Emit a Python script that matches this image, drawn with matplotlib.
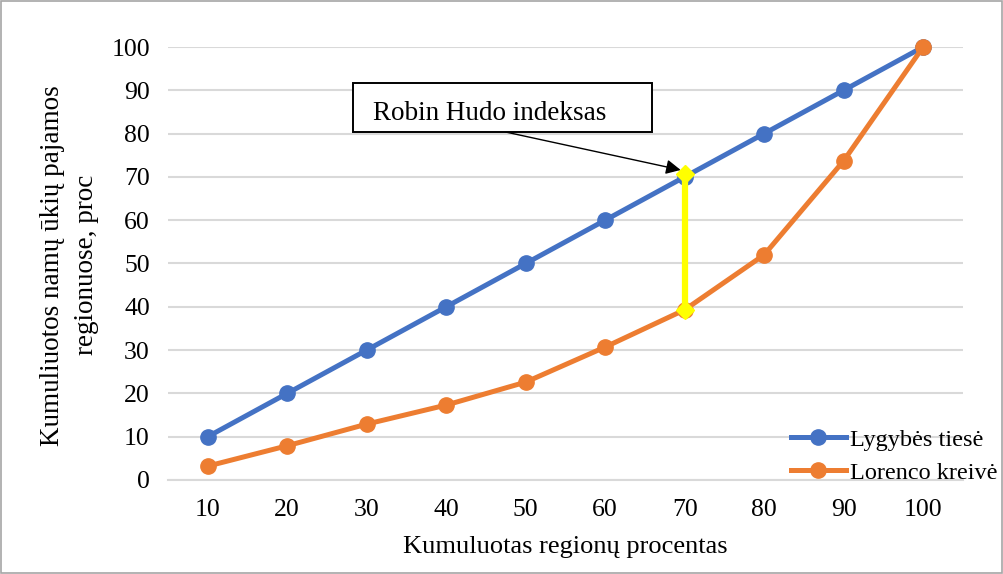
import numpy as np
import matplotlib.pyplot as plt
from matplotlib.patches import Rectangle

plt.rcParams['font.family'] = ['Liberation Serif', 'DejaVu Serif']

# Data
categories = [10, 20, 30, 40, 50, 60, 70, 80, 90, 100]
equality_line = [10, 20, 30, 40, 50, 60, 70, 80, 90, 100]
lorenz_curve = [3.2, 7.9, 12.9, 17.3, 22.6, 30.7, 39.3, 52.0, 73.7, 100]
gap_x = 70
gap_low = 39.3
gap_high = 70.7

blue = '#4472c4'
orange = '#ed7d31'
yellow = '#ffff00'

fig = plt.figure(figsize=(10.04, 5.74), dpi=100)
ax = fig.add_axes([0.1673, 0.1638, 0.7917, 0.7543])

ax.plot(categories, equality_line, color=blue, lw=3.6, marker='o', ms=11,
        label='Lygybės tiesė', clip_on=False, zorder=3)
ax.plot(categories, lorenz_curve, color=orange, lw=3.6, marker='o', ms=11,
        label='Lorenco kreivė', clip_on=False, zorder=3)

# Robin Hood index segment
ax.plot([gap_x, gap_x], [gap_low, gap_high], color=yellow, lw=4.5,
        marker='D', ms=9, zorder=4)

# annotation box + arrow
ax.add_patch(Rectangle((28.3, 80.4), 37.6, 11.3, fc='white', ec='black',
                       lw=1.4, zorder=6, clip_on=False))
ax.text(30.8, 83.2, 'Robin Hudo indeksas', fontsize=19.5, va='baseline',
        ha='left', zorder=7)
ax.annotate('', xy=(69.5, 71.6), xytext=(47.4, 80.4),
            arrowprops=dict(arrowstyle='-|>', color='black', lw=1,
                            mutation_scale=22, shrinkA=0, shrinkB=0),
            zorder=5)

ax.set_xlim(5, 105)
ax.set_ylim(0, 100)
ax.set_xticks(categories)
ax.set_yticks(np.arange(0, 101, 10))
ax.tick_params(length=0, labelsize=18.5)
ax.tick_params(axis='y', pad=13)
ax.tick_params(axis='x', pad=14)
ax.grid(axis='y', color='#d9d9d9', lw=1.5)
ax.set_axisbelow(True)
for s in ['top', 'right', 'left']:
    ax.spines[s].set_visible(False)
ax.spines['bottom'].set_color('#d9d9d9')
ax.spines['bottom'].set_linewidth(1.5)

fig.text(0.563, 0.047, 'Kumuluotas regionų procentas', fontsize=19,
         ha='center', va='center')
fig.text(0.069, 0.538, 'Kumuliuotos namų ūkių pajamos\nregionuose, proc',
         fontsize=19.5, ha='center', va='center', rotation=90, linespacing=1.45)

fig.legend(loc='center left', bbox_to_anchor=(0.778, 0.205), frameon=False,
           fontsize=17.5, handlelength=2.25, handletextpad=0.2,
           labelspacing=0.45, borderaxespad=0)

fig.patches.append(Rectangle((0.0005, 0.001), 0.998, 0.997,
                             transform=fig.transFigure, fill=False,
                             ec='#a6a6a6', lw=1.2))

fig.savefig('out.png', dpi=100)
